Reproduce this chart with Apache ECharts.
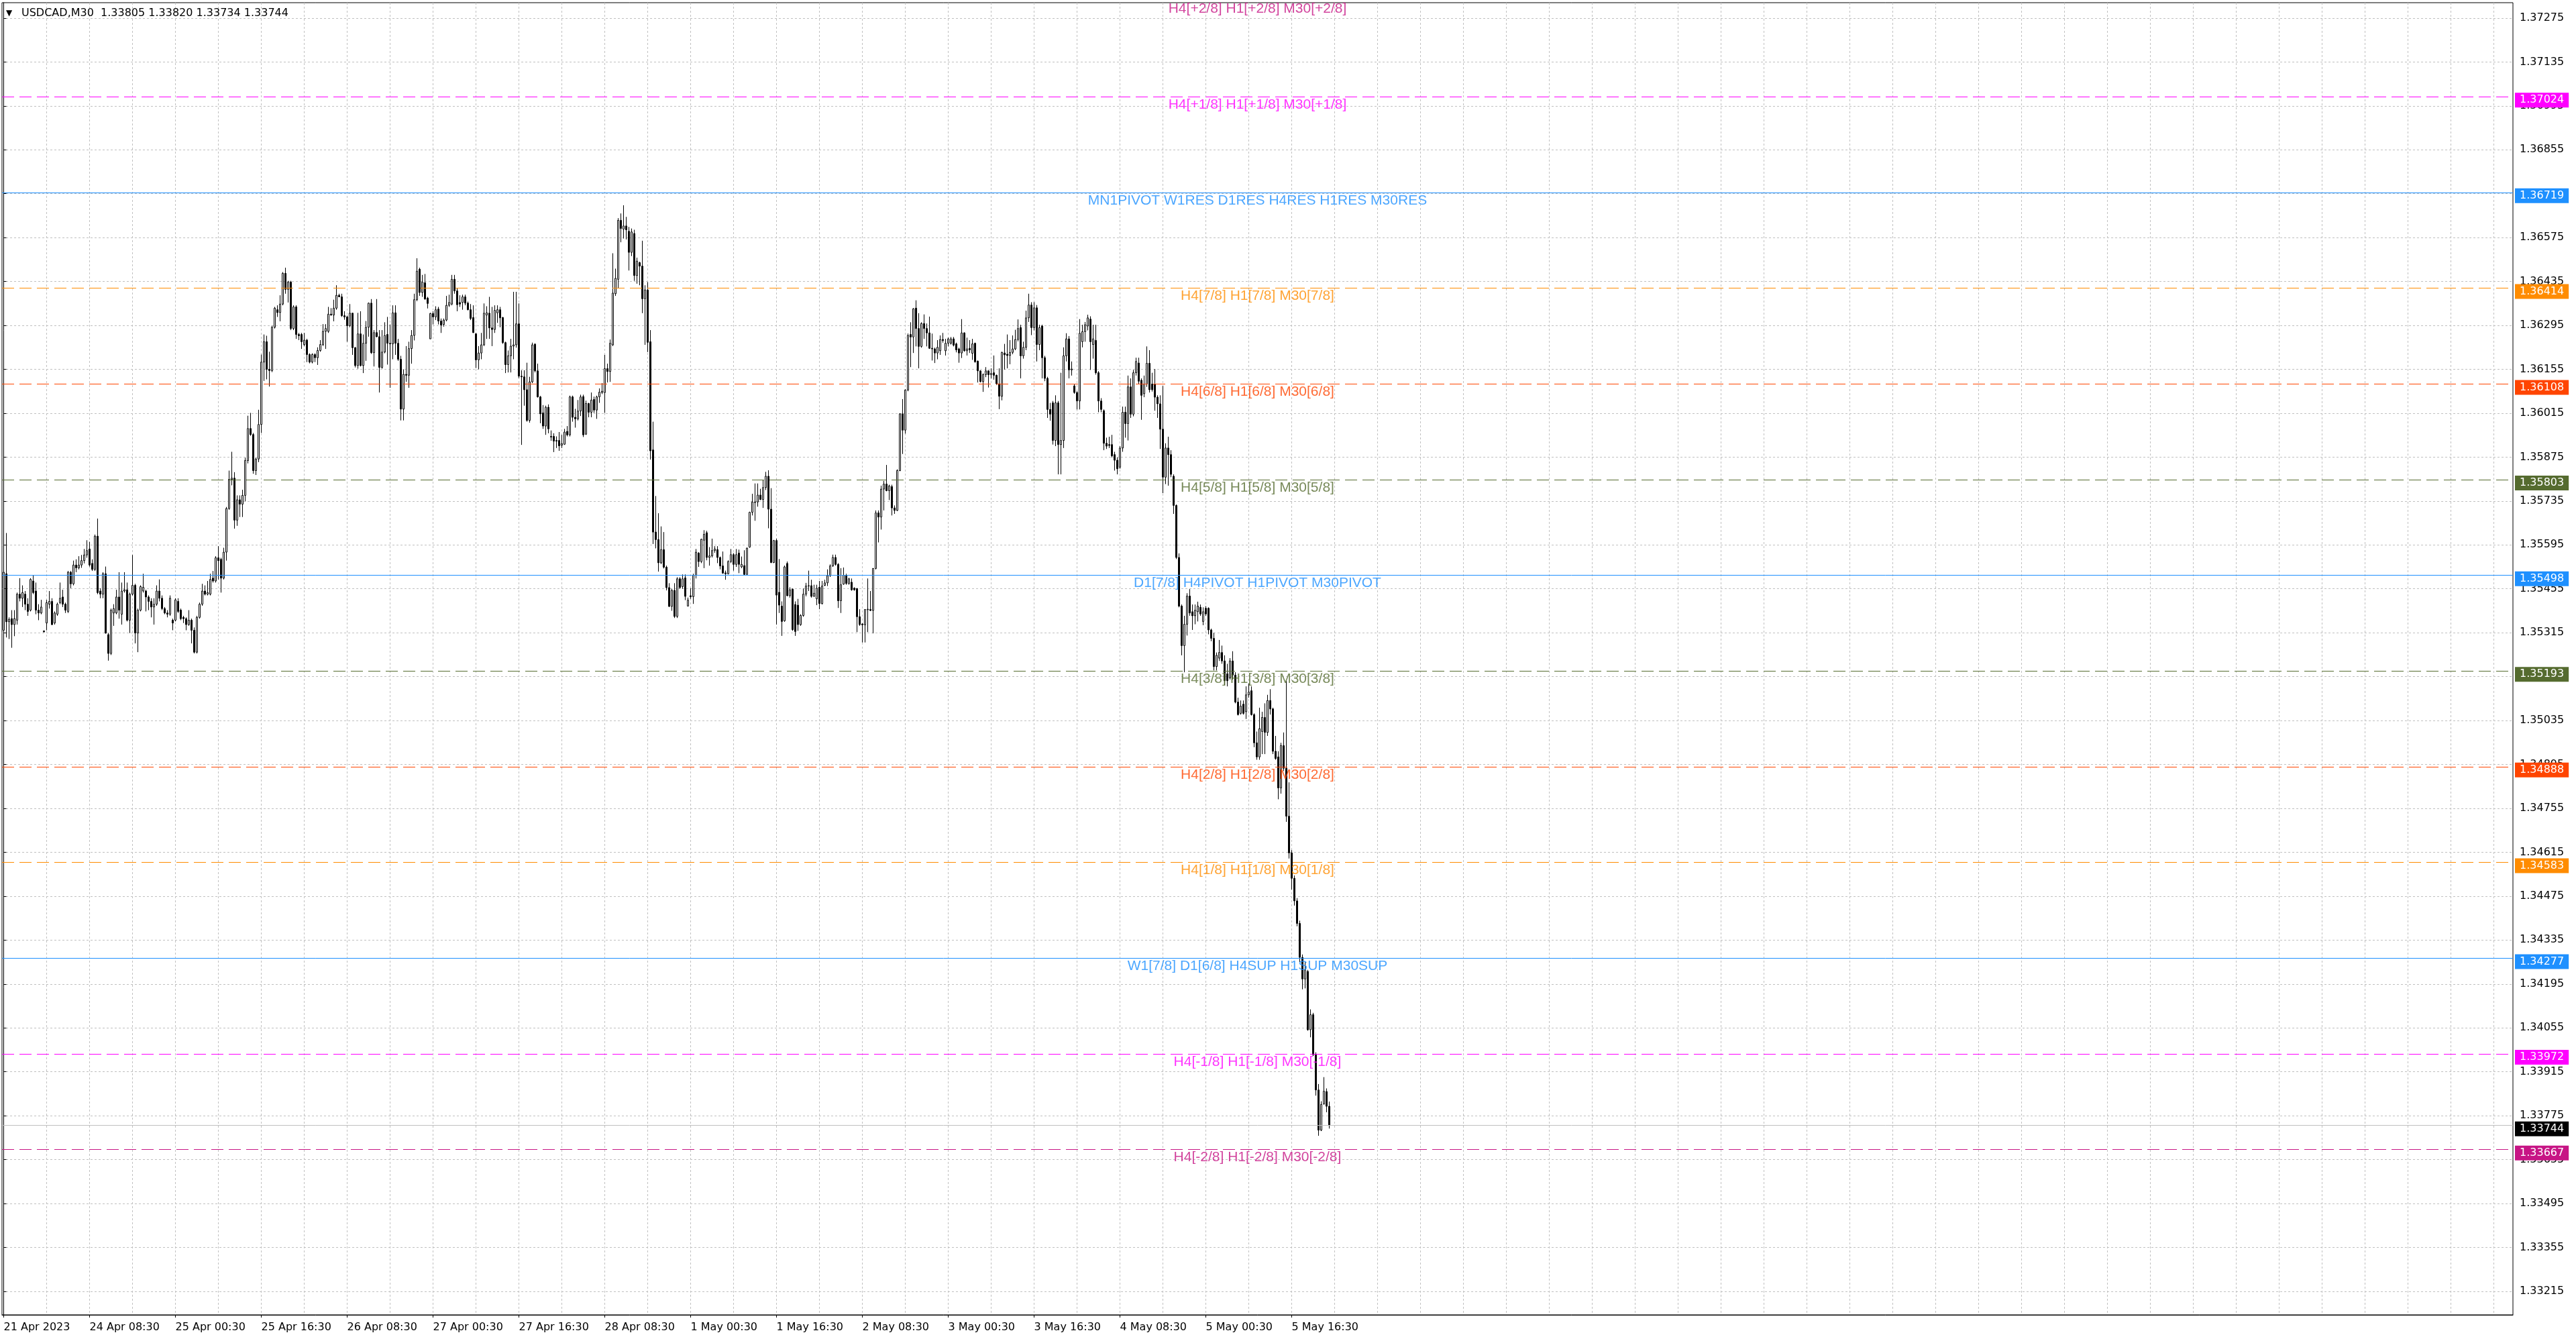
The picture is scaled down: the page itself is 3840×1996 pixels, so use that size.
<!DOCTYPE html>
<html>
<head>
<meta charset="utf-8">
<script src="https://cdn.jsdelivr.net/npm/echarts@6/dist/echarts.min.js"></script>
<style>
html,body{margin:0;padding:0;background:#ffffff;}
#chart{width:3840px;height:1996px;}
</style>
</head>
<body>
<div id="chart"></div>
<script>
// ---------------- DATA ----------------
const symbol = 'USDCAD';
const timeframe = 'M30';
// prices in points (1 point = 0.00001), one entry per 30-minute bar, 21 Apr 2023 16:30 .. 5 May 2023 23:30
const POINT = 100000;
const OPEN = [
135323,135503,135350,135360,135341,135355,135438,135425,135438,135406,
135387,135480,135448,135387,135378,135321,135346,135406,135415,135346,
135374,135411,135429,135406,135383,135508,135471,135531,135522,135531,
135545,135563,135582,135536,135517,135623,135448,135438,135503,135309,
135249,135378,135378,135429,135374,135448,135452,135355,135438,135466,
135314,135387,135448,135448,135429,135415,135397,135406,135448,135425,
135392,135378,135374,135355,135355,135415,135387,135364,135360,135341,
135355,135323,135253,135364,135406,135448,135438,135438,135489,135480,
135554,135549,135489,135572,135711,135804,135808,135674,135739,135725,
135753,135864,135966,135947,135832,135869,135979,136178,136243,136155,
136151,136289,136345,136336,136363,136461,136410,136433,136285,136354,
136266,136266,136234,136248,136202,136178,136202,136192,136215,136234,
136276,136276,136331,136328,136350,136391,136386,136326,136322,136294,
136334,136224,136167,136268,136167,136238,136289,136366,136208,136272,
136259,136161,136210,136266,136238,136236,136335,136238,136187,136028,
136139,136136,136221,136263,136377,136474,136400,136431,136382,136252,
136333,136322,136347,136309,136298,136312,136359,136363,136442,136405,
136368,136368,136386,136366,136345,136320,136268,136185,136207,136233,
136328,136334,136287,136282,136335,136345,136320,136240,136170,136198,
136229,136233,136300,136133,136131,136090,135992,136115,136235,136150,
136067,136016,135974,136034,135941,135941,135928,135928,135913,135916,
135957,135946,136067,136002,135997,136022,136068,135948,136046,136018,
136059,136025,136067,136081,136081,136157,136148,136233,136396,136442,
136630,136602,136612,136595,136528,136588,136454,136495,136484,136380,
136408,136243,135898,135636,135612,135538,135580,135524,135459,135399,
135450,135367,135487,135462,135490,135400,135433,135430,135498,135569,
135542,135610,135634,135555,135560,135577,135580,135555,135528,135506,
135503,135542,135564,135533,135569,135525,135529,135501,135588,135699,
135730,135732,135754,135740,135778,135814,135709,135539,135609,135444,
135400,135353,135536,135433,135454,135405,135403,135341,135370,135438,
135465,135465,135431,135423,135460,135408,135466,135474,135497,135528,
135555,135533,135417,135470,135498,135472,135476,135457,135456,135366,
135343,135340,135388,135389,135386,135520,135697,135684,135773,135789,
135768,135781,135713,135705,135832,136013,135961,136089,136266,136258,
136350,136285,136228,136301,136285,136271,136222,136220,136207,136214,
136250,136214,136238,136238,136252,136236,136220,136207,136271,136214,
136222,136206,136238,136181,136150,136116,136138,136150,136138,136144,
136136,136109,136069,136207,136203,136199,136209,136220,136250,136288,
136198,136225,136319,136360,136288,136351,136234,136293,136192,136126,
136027,136048,135928,136048,135915,135928,136198,136252,136153,136102,
136081,136054,136243,136275,136293,136315,136234,136247,136144,136054,
136023,135919,135915,135915,135883,135865,135843,135904,136018,135982,
136099,136012,136144,136175,136120,136077,136108,136174,136108,136108,
136066,136045,135964,135811,135904,135883,135814,135721,135555,135400,
135274,135342,135432,135382,135369,135382,135396,135351,135393,135393,
135324,135297,135207,135234,135252,135225,135184,135171,135225,135180,
135094,135058,135087,135063,135117,135130,135054,134964,134919,135000,
135045,134997,135099,135072,134937,134919,134820,134955,134883,134730,
134613,134532,134460,134388,134280,134211,134235,134049,134097,133969,
133857,133729,133812,133852,133805
];
const HIGH = [
135572,135633,135364,135387,135387,135443,135489,135466,135448,135425,
135489,135499,135475,135406,135420,135321,135420,135448,135425,135383,
135411,135475,135452,135411,135512,135512,135545,135549,135559,135563,
135582,135610,135605,135549,135628,135679,135457,135508,135526,135314,
135392,135406,135452,135508,135475,135508,135475,135443,135563,135471,
135392,135466,135503,135452,135434,135425,135425,135466,135485,135434,
135397,135387,135434,135360,135425,135425,135392,135369,135364,135387,
135360,135332,135369,135411,135471,135466,135480,135503,135512,135559,
135591,135554,135586,135716,135832,135892,135827,135753,135753,135771,
135873,136007,136016,135952,135873,136026,136202,136266,136262,136211,
136294,136354,136359,136391,136465,136479,136437,136437,136359,136359,
136271,136271,136271,136252,136206,136206,136206,136225,136248,136299,
136299,136354,136350,136377,136423,136396,136396,136340,136326,136363,
136335,136226,136335,136340,136266,136309,136368,136379,136280,136379,
136280,136280,136305,136322,136298,136359,136359,136252,136198,136155,
136229,136243,136280,136396,136509,136479,136456,136459,136386,136335,
136340,136356,136354,136317,136317,136389,136393,136456,136456,136414,
136391,136393,136393,136371,136363,136359,136271,136229,136271,136365,
136356,136386,136354,136359,136359,136354,136322,136243,136215,136252,
136402,136402,136365,136152,136152,136176,136131,136240,136238,136173,
136070,136041,136039,136043,135960,135951,135941,135955,135946,135965,
135974,136071,136071,136029,136057,136074,136074,136055,136048,136081,
136068,136071,136094,136111,136201,136173,136250,136525,136476,136637,
136652,136678,136641,136609,136604,136600,136511,136498,136565,136423,
136433,136280,135988,135751,135696,135654,135636,135529,135473,135455,
135473,135492,135492,135501,135501,135427,135457,135503,135582,135572,
135615,135642,135640,135588,135615,135591,135591,135558,135574,135513,
135546,135582,135569,135582,135580,135558,135578,135586,135701,135758,
135791,135791,135774,135803,135828,135833,135776,135611,135615,135550,
135415,135529,135542,135460,135456,135415,135423,135374,135456,135474,
135513,135484,135468,135468,135480,135480,135484,135517,135533,135564,
135564,135537,135521,135523,135503,135490,135488,135460,135457,135390,
135345,135390,135488,135448,135521,135705,135705,135784,135799,135850,
135787,135787,135721,135836,136015,136060,136091,136269,136305,136350,
136375,136334,136305,136330,136301,136323,136269,136224,136248,136263,
136271,136252,136256,136258,136258,136240,136224,136315,136273,136256,
136248,136252,136240,136183,136152,136142,136162,136152,136158,136199,
136138,136158,136211,136236,136266,136248,136263,136281,136314,136297,
136243,136342,136396,136369,136369,136360,136297,136297,136198,136131,
136048,136054,136072,136054,136144,136225,136270,136261,136180,136108,
136085,136315,136297,136306,136329,136324,136297,136297,136149,136063,
136027,135937,135940,135946,135892,135874,135910,136036,136036,136135,
136126,136153,136192,136192,136126,136135,136228,136216,136144,136156,
136072,136072,136102,135919,135940,135897,135820,135724,135568,135405,
135369,135441,135454,135405,135405,135414,135405,135396,135400,135396,
135328,135315,135252,135292,135274,135243,135216,135234,135256,135189,
135108,135099,135099,135144,135153,135144,135058,135000,135076,135063,
135090,135117,135135,135076,134986,134937,134964,134997,135162,134838,
134622,134541,134469,134397,134289,134265,134240,134114,134103,133977,
133876,133821,133898,133862,133820
];
const LOW = [
135304,135300,135295,135267,135304,135341,135415,135397,135387,135369,
135383,135438,135374,135355,135374,135316,135323,135392,135339,135341,
135369,135406,135397,135378,135378,135457,135466,135508,135517,135522,
135536,135554,135526,135512,135512,135438,135425,135425,135312,135226,
135244,135337,135374,135360,135341,135443,135351,135314,135434,135281,
135253,135383,135443,135383,135387,135364,135341,135401,135415,135387,
135374,135364,135369,135323,135351,135378,135355,135346,135323,135337,
135281,135249,135249,135360,135401,135434,135434,135434,135475,135475,
135485,135443,135485,135545,135707,135785,135647,135656,135684,135684,
135734,135855,135943,135822,135818,135859,135952,136118,136123,136100,
136146,136285,136322,136308,136359,136396,136368,136280,136280,136252,
136248,136220,136229,136178,136174,136174,136178,136169,136211,136229,
136220,136271,136326,136308,136345,136385,136322,136313,136243,136289,
136201,136161,136157,136164,136143,136182,136259,136204,136164,136257,
136081,136157,136206,136170,136096,136187,136201,136182,135992,135992,
136115,136096,136173,136247,136372,136389,136386,136377,136349,136252,
136298,136312,136298,136271,136291,136308,136354,136359,136396,136340,
136354,136345,136359,136343,136312,136271,136159,136155,136187,136229,
136252,136252,136229,136271,136303,136289,136236,136143,136145,136145,
136187,136224,136127,135914,136039,135988,135985,136111,136145,136065,
135983,135965,135946,135951,135927,135891,135904,135895,135904,135914,
135941,135941,135988,135969,135992,136006,135939,135946,136002,136002,
136016,135997,136048,136076,136016,136113,136115,136229,136389,136414,
136560,136572,136569,136470,136516,136437,136428,136423,136334,136233,
136210,135867,135598,135584,135510,135534,135520,135450,135397,135385,
135362,135362,135455,135455,135419,135399,135423,135407,135488,135525,
135537,135521,135546,135529,135555,135570,135537,135517,135503,135484,
135501,135537,135513,135525,135505,135521,135499,135501,135586,135689,
135672,135717,135738,135713,135770,135648,135537,135537,135341,135378,
135305,135350,135431,135427,135321,135305,135321,135337,135366,135431,
135448,135427,135430,135403,135390,135405,135464,135464,135493,135525,
135529,135394,135378,135468,135468,135468,135449,135449,135317,135337,
135284,135284,135317,135384,135313,135517,135603,135644,135705,135766,
135738,135689,135694,135703,135830,135885,135950,136085,136162,136207,
136228,136158,136224,136252,136228,136220,136183,136175,136187,136201,
136240,136199,136228,136234,136228,136209,136176,136191,136211,136199,
136207,136185,136176,136113,136113,136083,136130,136097,136126,136122,
136105,136028,136056,136154,136158,136171,136203,136216,136244,136126,
136189,136216,136306,136264,136279,136180,136216,136126,136117,136000,
135991,135915,135910,135820,135820,135904,136180,136126,136135,136077,
136027,136027,136225,136243,136279,136153,136189,136138,136018,136018,
135897,135901,135904,135874,135832,135820,135838,135892,135937,135928,
136000,136005,136135,136108,135994,136066,136099,136081,136084,136023,
136000,135901,135760,135789,135784,135811,135694,135550,135396,135243,
135189,135306,135369,135324,135342,135351,135369,135339,135369,135310,
135288,135195,135195,135225,135216,135148,135144,135166,135166,135090,
135051,135054,135054,135040,135108,135051,134950,134910,134910,134928,
134928,134986,135054,134928,134910,134784,134802,134874,134712,134595,
134496,134445,134379,134265,134178,134181,134046,134025,133966,133839,
133711,133726,133811,133786,133734
];
const CLOSE = [
135508,135350,135358,135341,135360,135438,135425,135443,135406,135383,
135485,135443,135387,135378,135397,135318,135411,135415,135341,135378,
135406,135425,135406,135387,135508,135471,135531,135522,135531,135545,
135563,135577,135531,135517,135623,135443,135438,135503,135314,135249,
135387,135392,135429,135387,135448,135452,135355,135438,135466,135314,
135387,135462,135460,135429,135415,135397,135406,135448,135425,135392,
135378,135374,135425,135346,135420,135383,135360,135360,135341,135355,
135323,135253,135364,135406,135448,135438,135443,135485,135480,135554,
135545,135489,135572,135711,135804,135808,135674,135739,135725,135753,
135864,135966,135947,135832,135869,135979,136178,136243,136155,136151,
136289,136350,136336,136363,136461,136410,136433,136285,136354,136266,
136262,136243,136248,136202,136178,136202,136192,136215,136234,136276,
136285,136331,136328,136350,136391,136386,136326,136322,136294,136334,
136224,136167,136268,136167,136238,136289,136366,136208,136272,136259,
136161,136210,136263,136238,136236,136335,136238,136187,136028,136139,
136136,136221,136263,136377,136468,136400,136433,136379,136365,136333,
136322,136345,136309,136296,136312,136359,136368,136442,136405,136361,
136363,136386,136366,136345,136317,136272,136185,136207,136233,136334,
136335,136287,136282,136343,136345,136319,136240,136170,136198,136229,
136233,136300,136133,136131,136090,135992,136115,136233,136150,136067,
136013,135974,136034,135965,135939,135926,135926,135911,135918,135955,
135946,136067,136002,135997,136022,136067,135946,136046,136018,136057,
136025,136067,136082,136085,136157,136148,136238,136398,136445,136630,
136604,136612,136600,136528,136593,136454,136500,136484,136380,136408,
136241,135895,135636,135612,135538,135580,135524,135459,135399,135450,
135367,135487,135459,135487,135431,135419,135430,135498,135572,135542,
135613,135629,135555,135560,135577,135582,135555,135528,135505,135503,
135542,135564,135533,135564,135533,135533,135501,135585,135699,135732,
135732,135754,135740,135778,135814,135709,135539,135609,135435,135403,
135351,135525,135433,135452,135325,135319,135341,135370,135438,135464,
135464,135431,135441,135457,135408,135464,135474,135497,135528,135555,
135533,135417,135468,135498,135472,135487,135452,135452,135366,135341,
135340,135389,135390,135386,135520,135697,135684,135773,135789,135768,
135783,135713,135705,135832,136013,135961,136089,136263,136258,136348,
136285,136228,136301,136285,136271,136222,136220,136207,136225,136250,
136247,136238,136252,136252,136232,136217,136207,136271,136214,136220,
136217,136236,136179,136150,136116,136138,136150,136138,136142,136136,
136109,136069,136209,136201,136199,136209,136220,136250,136285,136198,
136225,136319,136360,136288,136351,136234,136288,136192,136126,136027,
136012,135928,136048,135915,135928,136198,136252,136153,136156,136081,
136054,136270,136275,136297,136319,136243,136252,136144,136054,136027,
135919,135910,135912,135879,135865,135838,135904,136018,135982,136099,
136012,136144,136180,136117,136072,136108,136174,136090,136090,136066,
136045,135964,135811,135904,135883,135820,135721,135555,135400,135274,
135342,135432,135378,135369,135387,135400,135375,135382,135375,135324,
135297,135207,135243,135252,135225,135162,135162,135225,135180,135094,
135054,135081,135058,135117,135126,135054,134964,134919,135009,135045,
134997,135099,135072,134937,134914,134820,134955,134883,134730,134613,
134532,134460,134388,134280,134211,134240,134049,134097,133969,133857,
133729,133811,133853,133805,133744
];

// x-axis tick labels and the bar index where each one sits
const xTickLabels = ['21 Apr 2023','24 Apr 08:30','25 Apr 00:30','25 Apr 16:30','26 Apr 08:30','27 Apr 00:30',
  '27 Apr 16:30','28 Apr 08:30','1 May 00:30','1 May 16:30','2 May 08:30','3 May 00:30','3 May 16:30',
  '4 May 08:30','5 May 00:30','5 May 16:30'];
const xTickBars = [0,32,64,96,128,160,192,224,256,288,320,352,384,416,448,480];

// y-axis tick labels
const yTickValues = [1.33215,1.33355,1.33495,1.33635,1.33775,1.33915,1.34055,1.34195,1.34335,1.34475,
  1.34615,1.34755,1.34895,1.35035,1.35175,1.35315,1.35455,1.35595,1.35735,1.35875,1.36015,1.36155,
  1.36295,1.36435,1.36575,1.36715,1.36855,1.36995,1.37135,1.37275];

// Murrey-math style levels
const levelNames = ['H4[+2/8] H1[+2/8] M30[+2/8]','H4[+1/8] H1[+1/8] M30[+1/8]',
  'MN1PIVOT W1RES D1RES H4RES H1RES M30RES','H4[7/8] H1[7/8] M30[7/8]','H4[6/8] H1[6/8] M30[6/8]',
  'H4[5/8] H1[5/8] M30[5/8]','D1[7/8] H4PIVOT H1PIVOT M30PIVOT','H4[3/8] H1[3/8] M30[3/8]',
  'H4[2/8] H1[2/8] M30[2/8]','H4[1/8] H1[1/8] M30[1/8]','W1[7/8] D1[6/8] H4SUP H1SUP M30SUP',
  'H4[-1/8] H1[-1/8] M30[-1/8]','H4[-2/8] H1[-2/8] M30[-2/8]'];
const levelPrices = [1.37329,1.37024,1.36719,1.36414,1.36108,1.35803,1.35498,1.35193,1.34888,1.34583,1.34277,1.33972,1.33667];
const levelColors = ['#C71585','#FF00FF','#1E90FF','#FF8C00','#FF4500','#556B2F','#1E90FF','#556B2F','#FF4500','#FF8C00','#1E90FF','#FF00FF','#C71585'];
const levelSolid  = [false,false,true,false,false,false,true,false,false,false,true,false,false];
const currentPrice = CLOSE[CLOSE.length - 1] / POINT;

// ---------------- CHART ----------------
const X_MIN = -0.625, X_MAX = 935.125;
const Y_MIN = 1.33140, Y_MAX = 1.37324;
const X_MID = (X_MIN + X_MAX) / 2;
const gridBars = [];
for (let b = 0; b <= X_MAX; b += 16) gridBars.push(b);

const AXIS_FONT = 'DejaVu Sans';
const TEXT_FONT = 'Liberation Sans';

const candles = OPEN.map((o, i) => [i, o / POINT, CLOSE[i] / POINT, LOW[i] / POINT, HIGH[i] / POINT]);

const boxLabel = (txt, bg) => ({
  show: true, position: 'end', distance: 3, offset: [0, 5], formatter: txt, color: '#fff',
  backgroundColor: bg, padding: [3, 7, 3, 7], lineHeight: 16, fontFamily: AXIS_FONT, fontSize: 16
});

const markLines = [];
markLines.push({
  yAxis: currentPrice,
  lineStyle: { color: '#c0c0c0', type: 'solid', width: 1 },
  label: boxLabel(currentPrice.toFixed(5), '#000')
});
levelPrices.forEach((p, k) => {
  if (p > Y_MAX || p < Y_MIN) return;
  markLines.push({
    yAxis: p,
    lineStyle: { color: levelColors[k], type: levelSolid[k] ? 'solid' : [18, 8], width: 1 },
    label: boxLabel(p.toFixed(5), levelColors[k])
  });
});

const o = OPEN.length - 1;
const titleText = symbol + ',' + timeframe + '  ' + (OPEN[o] / POINT).toFixed(5) + ' ' + (HIGH[o] / POINT).toFixed(5) + ' ' +
  (LOW[o] / POINT).toFixed(5) + ' ' + (CLOSE[o] / POINT).toFixed(5);

const chart = echarts.init(document.getElementById('chart'), null, { renderer: 'canvas' });
chart.setOption({
  animation: false,
  backgroundColor: '#ffffff',
  title: [
    { text: '\u25BC', left: 9, top: 14, padding: 0, textStyle: { fontFamily: AXIS_FONT, fontSize: 12, fontWeight: 'normal', color: '#000' } },
    { text: titleText, left: 32, top: 12, padding: 0, textStyle: { fontFamily: AXIS_FONT, fontSize: 16, fontWeight: 'normal', color: '#000' } }
  ],
  grid: { left: 3, top: 4, right: 94, bottom: 36, show: true, borderColor: '#000', borderWidth: 1, containLabel: false },
  xAxis: [
    {
      type: 'value', min: X_MIN, max: X_MAX, position: 'bottom',
      axisLine: { show: true, lineStyle: { color: '#000', width: 1 } },
      axisTick: { show: true, customValues: xTickBars, length: 4, lineStyle: { color: '#000' } },
      axisLabel: { show: true, customValues: xTickBars, align: 'left', margin: 11, color: '#000',
                   fontFamily: AXIS_FONT, fontSize: 16,
                   formatter: v => { const k = xTickBars.indexOf(Math.round(v)); return k >= 0 ? xTickLabels[k] : ''; } },
      splitLine: { show: false }
    },
    {
      type: 'value', min: X_MIN, max: X_MAX, position: 'top',
      axisLine: { show: false }, axisLabel: { show: false },
      axisTick: { show: false, customValues: gridBars },
      splitLine: { show: true, lineStyle: { color: '#c0c0c0', type: [3, 3], width: 1 } }
    }
  ],
  yAxis: {
    type: 'value', position: 'right', min: Y_MIN, max: Y_MAX,
    axisLine: { show: true, lineStyle: { color: '#000', width: 1 } },
    axisTick: { show: true, customValues: yTickValues, length: 4, lineStyle: { color: '#000' } },
    axisLabel: { show: true, customValues: yTickValues, align: 'left', margin: 10, color: '#000',
                 fontFamily: AXIS_FONT, fontSize: 16, formatter: v => v.toFixed(5) },
    splitLine: { show: true, lineStyle: { color: '#c0c0c0', type: [3, 3], width: 1 } }
  },
  series: [
    {
      type: 'candlestick', name: symbol, xAxisIndex: 0, yAxisIndex: 0,
      data: candles, encode: { x: 0, y: [1, 2, 3, 4] },
      barWidth: 2, clip: false, large: false, silent: true,
      itemStyle: { color: '#ffffff', color0: '#000000', borderColor: '#000000', borderColor0: '#000000', borderWidth: 1 },
      markLine: { silent: true, animation: false, symbol: ['none', 'none'], precision: 5, data: markLines, emphasis: { disabled: true } },
      z: 3
    },
    {
      type: 'scatter', xAxisIndex: 0, yAxisIndex: 0, clip: false, silent: true, symbolSize: 1,
      itemStyle: { color: 'rgba(0,0,0,0)' },
      data: levelNames.map((n, k) => ({
        value: [X_MID, levelPrices[k]],
        label: { show: true, formatter: n, position: 'bottom', distance: 1, color: levelColors[k],
                 fontFamily: TEXT_FONT, fontSize: 21 }
      })),
      z: 4
    }
  ]
});
</script>
</body>
</html>
